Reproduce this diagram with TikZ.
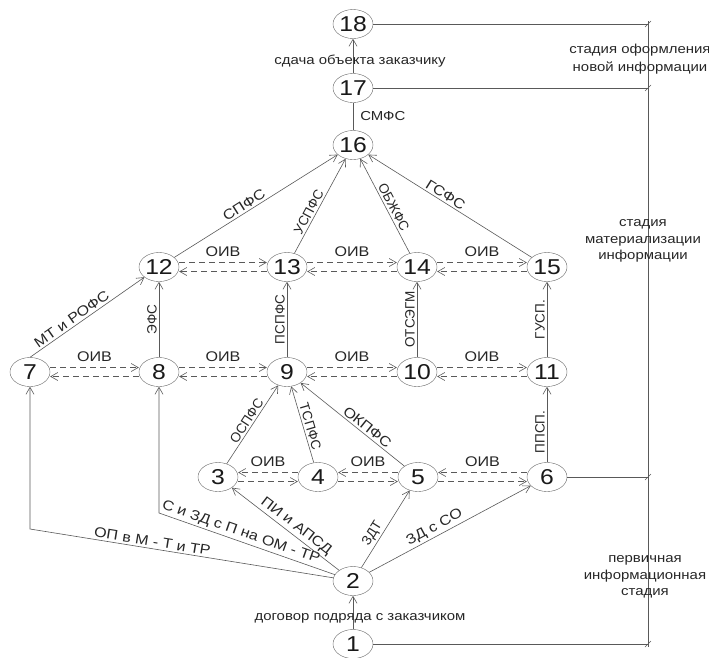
\documentclass[tikz,border=0pt]{standalone}
\usepackage{fontspec}
\setmainfont{Liberation Sans}[FakeStretch=1.15]
\newfontfamily\plainsans{Liberation Sans}
\usetikzlibrary{shapes.geometric,arrows.meta}

\begin{document}
\begin{tikzpicture}[x=1pt,y=-1pt,
  num/.style={ellipse,draw=black!60,minimum width=40pt,minimum height=29pt,inner sep=0pt,font=\fontsize{21.5}{21.5}\selectfont,text=black!90},
  line/.style={draw=black!65,line width=0.6pt},
  arr/.style={line,-{Straight Barb[length=7pt,width=8pt]}},
  oiv/.style={arr,dash pattern=on 6pt off 4pt},
  lbl/.style={font=\fontsize{13}{16.5}\selectfont,text=black!85,inner sep=2pt},
  slbl/.style={font=\plainsans\fontsize{13.5}{15}\selectfont,text=black!85,inner sep=2pt,sloped},
  hlbl/.style={font=\fontsize{14}{15}\selectfont,text=black!85,inner sep=2pt,sloped}]
\useasboundingbox (0,0) rectangle (709,657);
\node[num] (n18) at (353,24) {18};
\node[num] (n17) at (353,88) {17};
\node[num] (n16) at (353,145) {16};
\node[num] (n12) at (159,267) {12};
\node[num] (n13) at (287,267) {13};
\node[num] (n14) at (417,267) {14};
\node[num] (n15) at (547,267) {15};
\node[num] (n7) at (30,372) {7};
\node[num] (n8) at (159,372) {8};
\node[num] (n9) at (287,372) {9};
\node[num] (n10) at (417,372) {10};
\node[num] (n11) at (547,372) {11};
\node[num] (n3) at (218,477) {3};
\node[num] (n4) at (318,477) {4};
\node[num] (n5) at (418,477) {5};
\node[num] (n6) at (547,477) {6};
\node[num] (n2) at (353,581) {2};
\node[num] (n1) at (353,644) {1};
\coordinate (c7) at (30,529);
\coordinate (c8) at (159,513);
\coordinate (t18) at (648,24);
\coordinate (t17) at (648,88);
\coordinate (t6) at (648,477);
\coordinate (t1) at (648,644);

\draw[arr] (n1) -- (n2) node[lbl,pos=0.34,xshift=7pt] {договор подряда с заказчиком};
\draw[arr] (n2) -- (c7) node[hlbl,pos=0.6,above] {ОП в М - Т и ТР} -- (n7);
\draw[arr] (n2) -- (c8) node[hlbl,pos=0.55,above] {С и ЗД с П на ОМ - ТР} -- (n8);
\draw[arr] (n2) -- (n3) node[hlbl,pos=0.45,above] {ПИ и АПСД};
\draw[arr] (n2) -- (n5) node[slbl,pos=0.38,above] {ЗДТ};
\draw[arr] (n2) -- (n6) node[hlbl,pos=0.43,above] {ЗД с СО};
\draw[arr] (n3) -- (n9) node[slbl,midway,above] {ОСПФС};
\draw[arr] (n4) -- (n9) node[slbl,pos=0.45,above] {ТСПФС};
\draw[arr] (n5) -- (n9) node[hlbl,pos=0.4,above] {ОКПФС};
\draw[arr] (n6) -- (n11) node[slbl,pos=0.4,above] {ППСП.};
\draw[arr] (n8) -- (n12) node[slbl,midway,above] {ЭФС};
\draw[arr] (n9) -- (n13) node[slbl,midway,above] {ПСПФС};
\draw[arr] (n10) -- (n14) node[slbl,midway,above] {ОТСЭГМ};
\draw[arr] (n11) -- (n15) node[slbl,midway,above] {ГУСП.};
\draw[arr] (n7.north) -- (n12) node[hlbl,pos=0.4,above] {МТ и РОФС};
\draw[arr] (n12) -- (n16) node[hlbl,pos=0.45,above] {СПФС};
\draw[arr] (n13) -- (n16) node[slbl,pos=0.4,above] {УСПФС};
\draw[arr] (n14) -- (n16) node[slbl,pos=0.45,above] {ОБЖФС};
\draw[arr] (n15) -- (n16) node[hlbl,pos=0.55,above] {ГСФС};
\draw[line] (n16) -- (n17) node[lbl,midway,right,xshift=5pt] {СМФС};
\draw[arr] (n17) -- (n18) node[lbl,pos=0.36,xshift=7pt] {сдача объекта заказчику};

\foreach \a/\b in {n7/n8,n8/n9,n9/n10,n10/n11,n12/n13,n13/n14,n14/n15} {
  \draw[oiv] ([yshift=4.5pt]\a.east) -- ([yshift=4.5pt]\b.west);
  \draw[oiv] ([yshift=-4.5pt]\b.west) -- ([yshift=-4.5pt]\a.east);
  \path (\a) -- (\b) node[lbl,midway,yshift=15pt,font=\fontsize{14}{15}\selectfont] {ОИВ};
}
\foreach \a/\b in {n3/n4,n4/n5,n5/n6} {
  \draw[oiv] ([yshift=4.5pt]\b.west) -- ([yshift=4.5pt]\a.east);
  \draw[oiv] ([yshift=-4.5pt]\a.east) -- ([yshift=-4.5pt]\b.west);
  \path (\a) -- (\b) node[lbl,midway,yshift=15pt,font=\fontsize{14}{15}\selectfont] {ОИВ};
}

\draw[line] (n18) -- (t18);
\draw[line] (n17) -- (t17);
\draw[line] (n6) -- (t6);
\draw[line] (n1) -- (t1);
\draw[line] ([yshift=3pt]t18) -- ([yshift=-3pt]t1);
\foreach \t in {t18,t17,t6,t1}
  \draw[line] ([shift={(-3,3)}]\t) -- ([shift={(3,-3)}]\t);

\node[lbl,align=center,font=\fontsize{13}{18}\selectfont] (st1) at (640,59) {стадия оформления\\новой информации};
\node[lbl,align=center] (st2) at (643,241) {стадия\\материализации\\информации};
\node[lbl,align=center] (st3) at (645,577) {первичная\\информационная\\стадия};
\end{tikzpicture}
\end{document}
